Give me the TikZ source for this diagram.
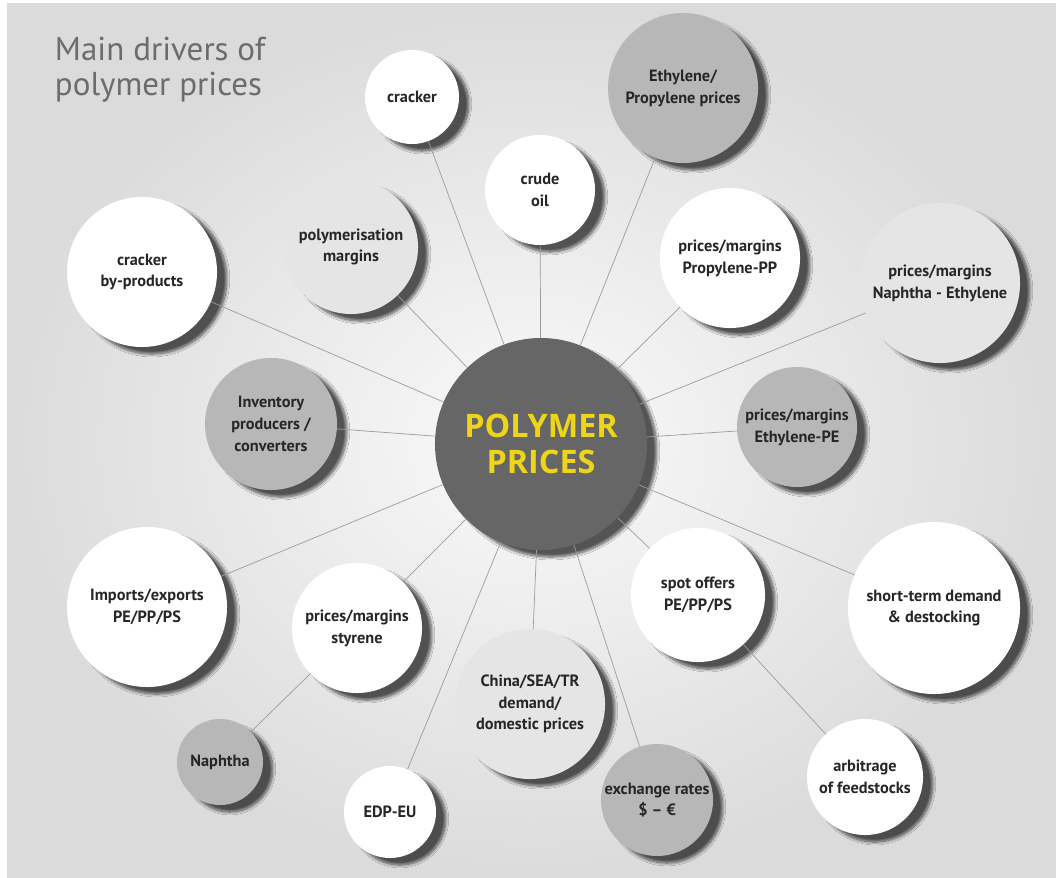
\documentclass[tikz,border=0pt]{standalone}
\usepackage{fontspec}
\setmainfont{PT Sans}
\newfontfamily\hubfont{Open Sans}
\usepackage{tikz}
\usetikzlibrary{shadows.blur}

\definecolor{dkgrey}{HTML}{B7B7B7}
\definecolor{ltgrey}{HTML}{E5E5E5}
\definecolor{hubgrey}{HTML}{666666}
\definecolor{hubyellow}{HTML}{EED51A}
\definecolor{txtgrey}{HTML}{262626}
\definecolor{titlegrey}{HTML}{6C6C6C}
\definecolor{linegrey}{HTML}{9C9C9C}

\begin{document}
\begin{tikzpicture}[x=0.025cm, y=-0.025cm,
    every node/.style={font=\fontsize{11.6}{15.5}\selectfont\bfseries, text=txtgrey},
    bubble/.style={circle, inner sep=0pt, align=center, minimum size=#1,
        blur shadow={shadow xshift=7pt, shadow yshift=-5pt, shadow blur steps=10, shadow opacity=65}},
    wbubble/.style={bubble=#1, fill=white},
    lbubble/.style={bubble=#1, fill=ltgrey},
    gbubble/.style={bubble=#1, fill=dkgrey},
    link/.style={draw=linegrey, line width=0.5pt}]
    \useasboundingbox (0,0) rectangle (1056,878);

    % background
    \fill[white] (0,0) rectangle (1056,878);
    \shade[inner color=white!98!black, outer color=white!86!black] (7,4) rectangle (1056,878);

    % title
    \node[anchor=north west, align=left, text=titlegrey, font=\fontsize{23.5}{25}\selectfont] (title) at (50,32) {Main drivers of\\polymer prices};

    % centre
    \node[bubble=5.3cm, fill=hubgrey, text=hubyellow, font=\hubfont\fontsize{23}{25}\selectfont\bfseries] (hub) at (541,444) {POLYMER\\PRICES};

    % upper half
    \node[wbubble=2.35cm] (crk) at (412,97) {cracker};
    \node[gbubble=3.75cm] (ethprop) at (683,88) {Ethylene/\\Propylene prices};
    \node[wbubble=2.75cm] (crude) at (540,190) {crude\\oil};
    \node[lbubble=3.35cm] (polym) at (351,247) {polymerisation\\margins};
    \node[wbubble=3.5cm] (ppmarg) at (730,258) {prices/margins\\Propylene-PP};
    \node[wbubble=3.75cm] (byprod) at (142,272) {cracker\\by-products};
    \node[lbubble=4cm] (napeth) at (940,283) {prices/margins\\Naphtha - Ethylene};
    \node[gbubble=3.3cm] (invent) at (271,424) {Inventory\\producers /\\converters};
    \node[gbubble=3cm] (pemarg) at (797,427) {prices/margins\\Ethylene-PE};

    % lower half
    \node[wbubble=4cm] (imports) at (147,607) {Imports/exports\\PE/PP/PS};
    \node[wbubble=3.25cm] (styrene) at (357,628) {prices/margins\\styrene};
    \node[wbubble=3.35cm] (spot) at (698,595) {spot offers\\PE/PP/PS};
    \node[wbubble=4.3cm] (shortdem) at (934,608) {short-term demand\\\& destocking};
    \node[lbubble=3.75cm] (china) at (530,704) {China/SEA/TR\\demand/\\domestic prices};
    \node[gbubble=2.15cm] (naphtha) at (220,762) {Naphtha};
    \node[wbubble=2.3cm] (edp) at (390,812) {EDP-EU};
    \node[gbubble=2.8cm] (exch) at (657,800) {exchange rates\\\$ -- €};
    \node[wbubble=2.9cm] (arbit) at (865,777) {arbitrage\\of feedstocks};

    % connectors
    \foreach \n in {crk, ethprop, crude, polym, ppmarg, byprod, napeth, invent, pemarg,
                    imports, styrene, spot, shortdem, china, edp, exch}
        \draw[link] (hub) -- (\n);
    \draw[link] (styrene) -- (naphtha);
    \draw[link] (spot) -- (arbit);
\end{tikzpicture}
\end{document}
